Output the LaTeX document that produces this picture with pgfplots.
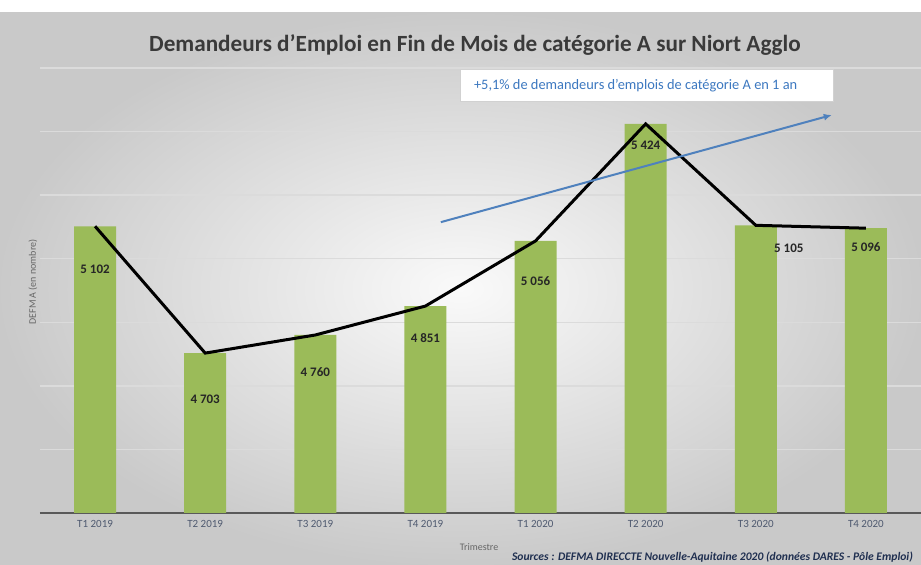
\documentclass[border=0pt]{standalone}
\usepackage{pgfplots}
\pgfplotsset{compat=1.18}
\usepackage{fontspec}
\setmainfont{Carlito}
\usetikzlibrary{arrows.meta}
\definecolor{barg}{HTML}{9BBB59}
\definecolor{arrowb}{HTML}{4F81BD}
\definecolor{boxtxt}{HTML}{3C78C0}
\definecolor{titlec}{HTML}{3A3A3A}
\definecolor{tickc}{HTML}{4F5A70}
\definecolor{srcc}{HTML}{1F2F50}
\begin{document}
\begin{tikzpicture}
\useasboundingbox (0,0) rectangle (460.5pt,282.5pt);
\fill[white] (0,0) rectangle (460.5pt,282.5pt);
\shade[inner color=white!98!black, outer color=black!21] (0,0) rectangle (460.5pt,276pt);
\begin{axis}[
  at={(20pt,26pt)}, anchor=south west,
  scale only axis, width=440.5pt, height=222.5pt,
  xmin=-0.5, xmax=7.5, ymin=4200, ymax=5600,
  ytick={4200,4400,...,5600}, yticklabels={},
  ymajorgrids, grid style={black!14, line width=0.7pt},
  axis x line*=bottom, axis y line*=left,
  x axis line style={-, draw=black!65, line width=1.1pt},
  y axis line style={draw=none},
  major tick length=0pt,
  xtick={0,...,7},
  xticklabels={T1 2019,T2 2019,T3 2019,T4 2019,T1 2020,T2 2020,T3 2020,T4 2020},
  xticklabel style={font=\fontsize{5.5}{6}\selectfont, text=tickc},
  clip=false,
]
\addplot[ybar, bar width=21pt, fill=barg, draw=none] coordinates {
 (0,5102) (1,4703) (2,4760) (3,4851) (4,5056) (5,5424) (6,5105) (7,5096)};
\addplot[black, line width=1.5pt, mark=none] coordinates {
 (0,5102) (1,4703) (2,4760) (3,4851) (4,5056) (5,5424) (6,5105) (7,5096)};
\draw[arrowb, line width=1pt, -{Latex[length=4pt,width=3.5pt]}] (axis cs:3.14,5115) -- (axis cs:6.69,5452);
\begin{scope}[every node/.style={font=\bfseries\fontsize{6.5}{7}\selectfont, text=black!85}]
\node at (axis cs:0,4967) {5 102};
\node at (axis cs:1,4558) {4 703};
\node at (axis cs:2,4643) {4 760};
\node at (axis cs:3,4750) {4 851};
\node at (axis cs:4,4930) {5 056};
\node at (axis cs:5,5357) {5 424};
\node at (axis cs:6.30,5033) {5 105};
\node at (axis cs:7,5036) {5 096};
\end{scope}
\end{axis}
\node[font=\bfseries\fontsize{11.6}{13}\selectfont, text=titlec] at (237.5pt,260pt) {Demandeurs d'Emploi en Fin de Mois de catégorie A sur Niort Agglo};
\fill[white, draw=black!18, line width=0.5pt] (230pt,231.5pt) rectangle (416.5pt,247.5pt);
\node[anchor=west, font=\fontsize{7.2}{8}\selectfont, text=boxtxt] at (233.5pt,239.5pt) {+5,1\% de demandeurs d'emplois de catégorie A en 1 an};
\node[rotate=90, font=\fontsize{5}{6}\selectfont, text=black!60] at (16.5pt,141.5pt) {DEFM A (en nombre)};
\node[font=\fontsize{5}{6}\selectfont, text=black!60] at (239.5pt,9pt) {Trimestre};
\node[anchor=east, font=\bfseries\itshape\fontsize{5.8}{6}\selectfont, text=srcc] at (460pt,3.8pt) {Sources : DEFMA DIRECCTE Nouvelle-Aquitaine 2020 (données DARES - Pôle Emploi)};
\end{tikzpicture}
\end{document}
